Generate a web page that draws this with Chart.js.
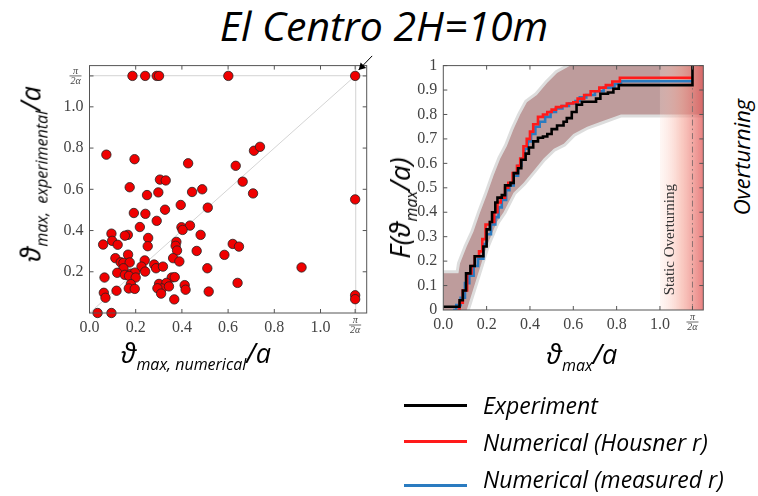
<!DOCTYPE html>
<html>
<head>
<meta charset="utf-8">
<script src="https://cdn.jsdelivr.net/npm/chart.js@4.4.1/dist/chart.umd.min.js"></script>
<style>
  html, body { margin: 0; padding: 0; background: #fff; }
  #wrap { position: relative; width: 758px; height: 496px; overflow: hidden; font-family: 'Open Sans', 'DejaVu Sans', sans-serif; }
  canvas { position: absolute; }
  #scatter { left: 40px; top: 50px; }
  #cdf { left: 400px; top: 50px; }
  .txt { position: absolute; font-style: italic; color: #000; white-space: nowrap; line-height: 1; }
  .rot { transform: translate(-50%, -50%) rotate(-90deg); }
  .hor { transform: translate(-50%, -50%); }
  .big { font-size: 27px; }
  .sub { font-size: 16px; position: relative; top: 7px; }
  .key { position: absolute; left: 404px; width: 63px; height: 3px; }
  .keytxt { position: absolute; left: 483px; font-size: 23px; font-style: italic; line-height: 1; transform: translateY(-50%); }
</style>
</head>
<body>
<div id="wrap">
  <div class="txt hor" style="left:384px; top:25px; font-size:41px;">El Centro 2H=10m</div>

  <canvas id="scatter" width="345" height="290"></canvas>
  <canvas id="cdf" width="320" height="290"></canvas>

  <div class="txt rot" style="left:30px; top:174px;"><span class="big">ϑ</span><span class="sub">max,&nbsp; experimental</span><span class="big">/a</span></div>
  <div class="txt hor" style="left:196px; top:352px;"><span class="big">ϑ</span><span class="sub">max, numerical</span><span class="big">/a</span></div>
  <div class="txt rot" style="left:399px; top:208px;"><span class="big" style="font-size:28px">F(ϑ</span><span class="sub">max</span><span class="big" style="font-size:28px">/a)</span></div>
  <div class="txt hor" style="left:582px; top:353px;"><span class="big">ϑ</span><span class="sub">max</span><span class="big">/a</span></div>
  <div class="txt rot" style="left:741px; top:157px; font-size:22px;">Overturning</div>

  <div class="key" style="top:404px; background:#000;"></div>
  <div class="keytxt" style="top:405px;">Experiment</div>
  <div class="key" style="top:440px; background:#ff1a1a;"></div>
  <div class="keytxt" style="top:442px;">Numerical (Housner r)</div>
  <div class="key" style="top:484px; background:#2a7bc0;"></div>
  <div class="keytxt" style="top:479px;">Numerical (measured r)</div>
</div>

<script>
// pi / (2 alpha): the overturning rotation, where both axes saturate
const PI2A = 1.15

// peak rotations of each test, numerical prediction vs experiment
const numerical = [
  0.186, 0.241, 0.291, 0.301, 0.601, PI2A, PI2A, PI2A, PI2A, 0.073,
  0.195, 0.427, 0.633, 0.712, 0.738, 0.305, 0.330, 0.174, 0.663, 0.298,
  0.249, 0.444, 0.488, 0.708, 0.395, 0.512, 0.327, 0.192, 0.242, 0.291,
  0.218, 0.398, 0.435, 0.403, 0.481, 0.095, 0.166, 0.153, 0.254, 0.059,
  0.098, 0.122, 0.252, 0.376, 0.373, 0.379, 0.464, 0.620, 0.647, 0.584,
  0.112, 0.167, 0.135, 0.147, 0.174, 0.239, 0.362, 0.389, 0.280, 0.225,
  0.147, 0.120, 0.153, 0.180, 0.197, 0.171, 0.200, 0.241, 0.288, 0.318,
  0.065, 0.510, 0.356, 0.369, 0.918, 0.301, 0.333, 0.314, 0.294, 0.344,
  0.412, 0.416, 0.641, 0.179, 0.170, 0.196, 0.117, 0.062, 0.069, 0.310,
  0.367, 0.516, 0.035, 0.095
]
const experimental = [
  PI2A, PI2A, PI2A, PI2A, PI2A, PI2A, 0.551, 0.086, 0.067, 0.768,
  0.746, 0.726, 0.714, 0.787, 0.806, 0.647, 0.643, 0.610, 0.637, 0.585,
  0.572, 0.587, 0.600, 0.580, 0.524, 0.511, 0.501, 0.485, 0.481, 0.447,
  0.417, 0.416, 0.424, 0.403, 0.379, 0.385, 0.379, 0.375, 0.364, 0.332,
  0.350, 0.331, 0.324, 0.345, 0.326, 0.303, 0.301, 0.335, 0.322, 0.282,
  0.266, 0.283, 0.246, 0.243, 0.245, 0.255, 0.266, 0.250, 0.235, 0.225,
  0.217, 0.195, 0.185, 0.191, 0.196, 0.180, 0.172, 0.201, 0.217, 0.225,
  0.172, 0.217, 0.172, 0.174, 0.221, 0.141, 0.146, 0.119, 0.120, 0.129,
  0.135, 0.113, 0.146, 0.140, 0.119, 0.117, 0.108, 0.098, 0.074, 0.094,
  0.066, 0.104, 0.0, 0.0
]

// empirical CDF steps: x where the step happens, F after it
const expStepX = [0, 0.075, 0.09, 0.105, 0.125, 0.145, 0.185, 0.20, 0.215, 0.225, 0.24, 0.25, 0.27, 0.285, 0.31, 0.325, 0.345, 0.36, 0.38, 0.395, 0.415, 0.437, 0.46, 0.48, 0.50, 0.525, 0.555, 0.57, 0.593, 0.615, 0.64, 0.705, 0.725, 0.76, 0.785, 0.81, PI2A]
const expStepF = [0.013, 0.04, 0.08, 0.15, 0.18, 0.22, 0.26, 0.33, 0.36, 0.40, 0.44, 0.46, 0.47, 0.51, 0.52, 0.56, 0.58, 0.615, 0.64, 0.665, 0.69, 0.705, 0.71, 0.72, 0.74, 0.755, 0.77, 0.785, 0.81, 0.84, 0.852, 0.865, 0.885, 0.89, 0.905, 0.92, 1.0]

const housnerStepX = [0.065, 0.075, 0.09, 0.11, 0.13, 0.145, 0.165, 0.18, 0.195, 0.215, 0.235, 0.25, 0.265, 0.285, 0.30, 0.32, 0.34, 0.355, 0.37, 0.385, 0.40, 0.415, 0.437, 0.46, 0.48, 0.50, 0.52, 0.545, 0.57, 0.60, 0.62, 0.65, 0.68, 0.72, 0.75, 0.78, 0.815, PI2A]
const housnerStepF = [0.0, 0.03, 0.08, 0.15, 0.18, 0.22, 0.24, 0.29, 0.35, 0.36, 0.40, 0.44, 0.46, 0.50, 0.52, 0.56, 0.59, 0.62, 0.67, 0.70, 0.73, 0.76, 0.79, 0.80, 0.81, 0.82, 0.83, 0.835, 0.845, 0.85, 0.865, 0.88, 0.895, 0.91, 0.92, 0.935, 0.95, 0.95]

const measuredStepX = [0.045, 0.06, 0.08, 0.10, 0.12, 0.14, 0.16, 0.185, 0.20, 0.22, 0.24, 0.255, 0.27, 0.29, 0.305, 0.325, 0.345, 0.36, 0.375, 0.39, 0.405, 0.425, 0.445, 0.47, 0.495, 0.52, 0.55, 0.58, 0.61, 0.63, 0.66, 0.70, 0.74, 0.79, 0.82, PI2A]
const measuredStepF = [0.0, 0.02, 0.05, 0.11, 0.14, 0.18, 0.21, 0.27, 0.31, 0.35, 0.38, 0.42, 0.45, 0.49, 0.51, 0.55, 0.59, 0.62, 0.66, 0.69, 0.72, 0.75, 0.77, 0.79, 0.81, 0.825, 0.835, 0.845, 0.855, 0.87, 0.88, 0.895, 0.91, 0.925, 0.936, 0.936]

// confidence band around the numerical CDF
const bandLowX = [0, 0.108, 0.154, 0.20, 0.247, 0.278, 0.324, 0.37, 0.417, 0.463, 0.51, 0.556, 0.60, 0.664, 0.726, 0.788, 0.82, 1.2]
const bandLowF = [0, 0, 0.13, 0.26, 0.36, 0.40, 0.48, 0.52, 0.57, 0.62, 0.66, 0.68, 0.72, 0.75, 0.77, 0.79, 0.80, 0.80]
const bandHighX = [0, 0.07, 0.077, 0.108, 0.139, 0.17, 0.20, 0.232, 0.263, 0.293, 0.324, 0.355, 0.386, 0.432, 0.48, 0.525, 0.587, 1.2]
const bandHighF = [0.15, 0.15, 0.19, 0.26, 0.32, 0.40, 0.47, 0.55, 0.62, 0.67, 0.74, 0.80, 0.85, 0.88, 0.93, 0.97, 1.0, 1.0]

const fractionTicks = [0, 0.2, 0.4, 0.6, 0.8, 1.0, PI2A]
const cdfTicksY = [0, 0.1, 0.2, 0.3, 0.4, 0.5, 0.6, 0.7, 0.8, 0.9, 1]

const TICK_FONT = { family: "'Liberation Serif', 'DejaVu Serif', serif", size: 16 }
const TICK_COLOR = '#444'

const pts = (xs, ys) => xs.map((x, i) => ({ x, y: ys[i] }))
const label = v => (v === PI2A ? '' : v.toFixed(1))

// frame, inward ticks and the stacked pi/2alpha labels
const framePlugin = {
  id: 'frame',
  afterDraw (chart, args, opts) {
    const { ctx, chartArea: a, scales } = chart
    ctx.save()
    ctx.strokeStyle = '#555'
    ctx.lineWidth = 1
    ctx.strokeRect(a.left, a.top, a.right - a.left, a.bottom - a.top)
    ctx.beginPath()
    scales.x.ticks.forEach(t => {
      const px = scales.x.getPixelForValue(t.value)
      if (px <= a.left + 1) return
      ctx.moveTo(px, a.bottom); ctx.lineTo(px, a.bottom - 4)
      ctx.moveTo(px, a.top); ctx.lineTo(px, a.top + 4)
    })
    scales.y.ticks.forEach(t => {
      const py = scales.y.getPixelForValue(t.value)
      if (py >= a.bottom - 1) return
      ctx.moveTo(a.left, py); ctx.lineTo(a.left + 4, py)
      ctx.moveTo(a.right, py); ctx.lineTo(a.right - 4, py)
    })
    ctx.stroke()

    const frac = (cx, cy) => {
      ctx.fillStyle = TICK_COLOR
      ctx.strokeStyle = TICK_COLOR
      ctx.font = "italic 10px 'Liberation Serif', serif"
      ctx.textAlign = 'center'
      ctx.textBaseline = 'middle'
      ctx.fillText('π', cx, cy - 5)
      ctx.fillText('2α', cx, cy + 5.5)
      ctx.beginPath()
      ctx.lineWidth = 0.8
      ctx.moveTo(cx - 6, cy); ctx.lineTo(cx + 6, cy)
      ctx.stroke()
    }
    frac(scales.x.getPixelForValue(PI2A), a.bottom + 12)
    if (opts.yFraction) frac(a.left - 14, scales.y.getPixelForValue(PI2A))

    if (opts.arrow) {
      const px = scales.x.getPixelForValue(PI2A)
      const py = scales.y.getPixelForValue(PI2A)
      const tip = { x: px + 3.5, y: py - 6 }
      ctx.strokeStyle = '#000'
      ctx.fillStyle = '#000'
      ctx.lineWidth = 1
      ctx.beginPath()
      ctx.moveTo(px + 17, py - 20); ctx.lineTo(tip.x, tip.y)
      ctx.stroke()
      ctx.beginPath()
      ctx.moveTo(tip.x, tip.y)
      ctx.lineTo(tip.x + 2, tip.y - 7.5)
      ctx.lineTo(tip.x + 7.5, tip.y - 2)
      ctx.closePath()
      ctx.fill()
    }
    ctx.restore()
  }
}

// shaded overturning strip, dash-dot limit and its caption (drawn under the CDF curves)
const overturnPlugin = {
  id: 'overturn',
  afterDatasetDraw (chart, args) {
    if (chart.data.datasets[args.index].label !== 'band') return
    const { ctx, chartArea: a, scales } = chart
    const x0 = scales.x.getPixelForValue(1.0)
    const xl = scales.x.getPixelForValue(PI2A)
    ctx.save()
    const g = ctx.createLinearGradient(x0, 0, a.right, 0)
    g.addColorStop(0, 'rgba(255, 225, 215, 0.25)')
    g.addColorStop(0.5, 'rgba(245, 160, 145, 0.55)')
    g.addColorStop(1, 'rgba(225, 85, 85, 0.75)')
    ctx.fillStyle = g
    ctx.fillRect(x0, a.top, a.right - x0, a.bottom - a.top)

    ctx.strokeStyle = '#8a7070'
    ctx.lineWidth = 1
    ctx.setLineDash([6, 3, 1.5, 3])
    ctx.beginPath()
    ctx.moveTo(xl, a.top); ctx.lineTo(xl, a.bottom)
    ctx.stroke()
    ctx.setLineDash([])

    ctx.translate(scales.x.getPixelForValue(1.047), scales.y.getPixelForValue(0.288))
    ctx.rotate(-Math.PI / 2)
    ctx.fillStyle = '#333'
    ctx.font = "15px 'Liberation Serif', serif"
    ctx.textAlign = 'center'
    ctx.textBaseline = 'middle'
    ctx.fillText('Static Overturning', 0, 0)
    ctx.restore()
  }
}

const setTicks = list => scale => { scale.ticks = list.map(v => ({ value: v })) }

new Chart(document.getElementById('scatter').getContext('2d'), {
  data: {
    datasets: [
      {
        type: 'scatter',
        data: pts(numerical, experimental),
        backgroundColor: '#f00000',
        borderColor: '#222',
        borderWidth: 0.8,
        pointRadius: 4.7,
        clip: false,
        order: 1
      },
      {
        type: 'line',
        data: pts([0, PI2A], [0, PI2A]),
        borderColor: '#d4d4d4',
        borderWidth: 1,
        pointRadius: 0,
        order: 2
      }
    ]
  },
  options: {
    responsive: false,
    animation: false,
    layout: { padding: { top: 15, right: 18.3, bottom: 0, left: 0 } },
    plugins: { legend: { display: false }, tooltip: { enabled: false }, frame: { yFraction: true, arrow: true } },
    scales: {
      x: {
        type: 'linear',
        min: 0,
        max: 1.2,
        afterBuildTicks: setTicks(fractionTicks),
        afterFit: s => { s.height = 27 },
        border: { display: false },
        grid: { drawTicks: false, lineWidth: 1.3, color: c => (c.tick && c.tick.value === PI2A ? '#dcdcdc' : 'rgba(0,0,0,0)') },
        ticks: { font: TICK_FONT, color: TICK_COLOR, padding: 5, maxRotation: 0, callback: label }
      },
      y: {
        type: 'linear',
        min: 0,
        max: 1.2,
        afterBuildTicks: setTicks(fractionTicks.slice(1)),
        afterFit: s => { s.width = 49.5 },
        border: { display: false },
        grid: { drawTicks: false, lineWidth: 1.3, color: c => (c.tick && c.tick.value === PI2A ? '#dcdcdc' : 'rgba(0,0,0,0)') },
        ticks: { font: TICK_FONT, color: TICK_COLOR, padding: 6, callback: label }
      }
    }
  },
  plugins: [framePlugin]
})

const stepLine = (xs, ys, color, order) => ({
  type: 'line',
  data: pts(xs, ys),
  stepped: 'before',
  borderColor: color,
  borderWidth: 2.6,
  pointRadius: 0,
  fill: false,
  order
})

const halo = (xs, ys) => ({
  type: 'line',
  data: pts(xs, ys),
  borderColor: 'rgba(212, 212, 212, 0.8)',
  borderWidth: 6,
  pointRadius: 0,
  fill: false,
  order: 10
})

new Chart(document.getElementById('cdf').getContext('2d'), {
  data: {
    datasets: [
      halo(bandLowX, bandLowF),
      halo(bandHighX, bandHighF),
      {
        type: 'line',
        data: pts(bandLowX, bandLowF),
        borderWidth: 0,
        pointRadius: 0,
        fill: false,
        order: 8
      },
      {
        type: 'line',
        label: 'band',
        data: pts(bandHighX, bandHighF),
        borderWidth: 0,
        pointRadius: 0,
        fill: { target: 2 },
        backgroundColor: 'rgb(190, 156, 156)',
        order: 7
      },
      stepLine(measuredStepX, measuredStepF, '#2a7bc0', 3),
      stepLine(housnerStepX, housnerStepF, '#ff1a1a', 2),
      stepLine(expStepX, expStepF, '#000', 1)
    ]
  },
  options: {
    responsive: false,
    animation: false,
    layout: { padding: { top: 13.3, right: 16.7, bottom: 0, left: 0 } },
    plugins: { legend: { display: false }, tooltip: { enabled: false }, frame: { yFraction: false, arrow: false } },
    scales: {
      x: {
        type: 'linear',
        min: 0,
        max: 1.2,
        afterBuildTicks: setTicks(fractionTicks),
        afterFit: s => { s.height = 30 },
        border: { display: false },
        grid: { display: false, drawTicks: false },
        ticks: { font: TICK_FONT, color: TICK_COLOR, padding: 5, maxRotation: 0, callback: label }
      },
      y: {
        type: 'linear',
        min: 0,
        max: 1,
        afterBuildTicks: setTicks(cdfTicksY),
        afterFit: s => { s.width = 43.3 },
        border: { display: false },
        grid: { display: false, drawTicks: false },
        ticks: { font: TICK_FONT, color: TICK_COLOR, padding: 6, callback: v => (v === 0 || v === 1 ? String(v) : v.toFixed(1)) }
      }
    }
  },
  plugins: [overturnPlugin, framePlugin]
})
</script>
</body>
</html>
